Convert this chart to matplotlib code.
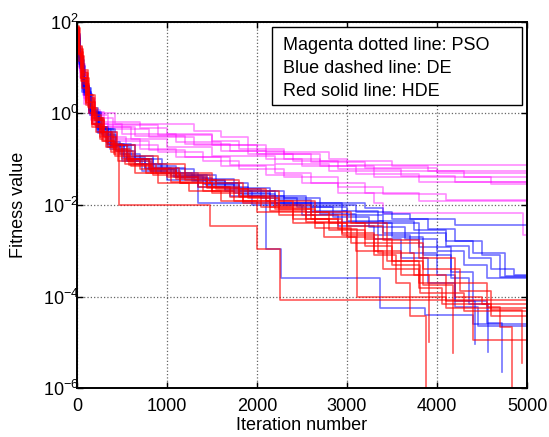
import matplotlib
matplotlib.use("Agg")
import matplotlib.pyplot as plt
from matplotlib.patches import Rectangle

plt.rcParams['font.family'] = ['Liberation Sans', 'DejaVu Sans']
plt.rcParams['mathtext.fontset'] = 'custom'
plt.rcParams['mathtext.rm'] = 'Liberation Sans'

# convergence runs, (iteration, best fitness) breakpoints
pso1 = [(0, 40), (25, 15), (60, 5), (120, 1.8), (200, 1.0), (420, 0.6), (1300, 0.42), (1600, 0.3),
        (1900, 0.2), (2100, 0.14), (2800, 0.1), (3000, 0.074), (5000, 0.074)]
pso2 = [(0, 55), (30, 12), (90, 3), (160, 1.1), (300, 0.65), (700, 0.48), (1000, 0.36), (1500, 0.25),
        (1800, 0.17), (2300, 0.13), (2700, 0.09), (3500, 0.07), (3900, 0.055), (5000, 0.055)]
pso3 = [(0, 35), (20, 10), (70, 2.5), (150, 0.9), (350, 0.55), (900, 0.33), (1500, 0.2), (2000, 0.13),
        (2600, 0.085), (3200, 0.065), (4000, 0.05), (5000, 0.05)]
pso4 = [(0, 45), (40, 8), (100, 2.2), (200, 0.8), (400, 0.45), (800, 0.3), (1300, 0.2), (1900, 0.13),
        (2400, 0.09), (2900, 0.06), (3600, 0.042), (4200, 0.032), (5000, 0.032)]
pso5 = [(0, 30), (30, 6), (80, 1.6), (180, 0.6), (500, 0.35), (1100, 0.24), (1600, 0.15), (2100, 0.1),
        (2500, 0.07), (3100, 0.048), (3800, 0.031), (5000, 0.031)]
pso6 = [(0, 50), (25, 14), (70, 3.5), (130, 1.2), (260, 0.5), (600, 0.28), (1000, 0.18), (1500, 0.12),
        (2200, 0.08), (2800, 0.055), (3300, 0.04), (4600, 0.028), (5000, 0.028)]
pso7 = [(0, 40), (35, 9), (90, 2), (160, 0.7), (300, 0.3), (550, 0.2), (900, 0.14), (1400, 0.09),
        (1800, 0.06), (2300, 0.04), (2900, 0.025), (3400, 0.017), (4100, 0.013), (5000, 0.013)]
pso8 = [(0, 60), (20, 20), (60, 4), (130, 1.0), (250, 0.4), (450, 0.25), (800, 0.16), (1200, 0.11),
        (1700, 0.075), (2200, 0.05), (2600, 0.03), (3200, 0.018), (3800, 0.012), (5000, 0.012)]
pso9 = [(0, 38), (30, 10), (80, 2.2), (170, 0.6), (350, 0.28), (700, 0.17), (1100, 0.11), (1600, 0.07),
        (2100, 0.045), (2500, 0.03), (2900, 0.018), (3300, 0.011), (3400, 0.0066), (4960, 0.0022), (5000, 0.0022)]
pso10 = [(0, 48), (25, 11), (75, 2.8), (140, 1.0), (280, 0.5), (650, 0.32), (1200, 0.22), (1700, 0.15),
         (2300, 0.1), (2700, 0.07), (3300, 0.055), (4300, 0.04), (5000, 0.04)]

de1 = [(0, 50), (30, 12), (80, 3), (160, 1.0), (260, 0.45), (400, 0.22), (600, 0.12), (850, 0.07),
       (1100, 0.04), (1340, 0.011), (3200, 0.0085), (3400, 0.0065), (3700, 0.005), (4200, 0.0036), (5000, 0.0036)]
de2 = [(0, 45), (25, 14), (70, 3.5), (150, 1.1), (250, 0.45), (380, 0.2), (560, 0.1), (800, 0.06),
       (1100, 0.045), (1450, 0.03), (1800, 0.02), (2200, 0.013), (2600, 0.009), (3000, 0.006), (3400, 0.004),
       (3800, 0.0025), (4100, 0.0013), (4350, 7e-4), (4600, 4e-4), (4700, 2.7e-4), (5000, 2.7e-4)]
de3 = [(0, 55), (30, 15), (80, 3.5), (160, 1.1), (270, 0.45), (420, 0.2), (650, 0.1), (950, 0.06),
       (1300, 0.035), (1650, 0.02), (1950, 0.01), (2100, 0.0011), (2270, 2.6e-4), (3370, 5.6e-5),
       (3870, 4e-5), (4400, 2.5e-5), (5000, 2.5e-5)]
de4 = [(0, 40), (20, 12), (60, 3), (130, 1.0), (220, 0.4), (340, 0.18), (500, 0.09), (720, 0.055),
       (1000, 0.035), (1350, 0.025), (1700, 0.016), (2100, 0.01), (2500, 0.006), (2900, 0.0035),
       (3300, 0.0018), (3600, 7e-4), (3900, 2e-4), (4200, 6e-5), (4450, 2.3e-5), (5000, 2.3e-5)]
de5 = [(0, 60), (25, 18), (70, 4), (140, 1.3), (230, 0.5), (350, 0.22), (520, 0.11), (760, 0.065),
       (1050, 0.042), (1400, 0.028), (1750, 0.018), (2150, 0.011), (2550, 0.007), (2950, 0.0042),
       (3350, 0.0022), (3700, 9e-4), (4000, 3e-4), (4200, 8e-5), (4420, 9e-6)]
de6 = [(0, 45), (30, 10), (75, 2.5), (150, 0.9), (240, 0.38), (370, 0.17), (560, 0.09), (820, 0.055),
       (1150, 0.038), (1500, 0.025), (1900, 0.016), (2300, 0.01), (2700, 0.0065), (3100, 0.004),
       (3500, 0.002), (3850, 8e-4), (4150, 2.5e-4), (4350, 7e-5), (4570, 6e-6)]
de7 = [(0, 50), (20, 16), (65, 3.8), (135, 1.2), (225, 0.45), (345, 0.2), (520, 0.1), (760, 0.06),
       (1080, 0.04), (1430, 0.027), (1800, 0.017), (2200, 0.011), (2600, 0.0072), (3000, 0.0045),
       (3400, 0.0025), (3800, 0.0012), (4150, 3.5e-4), (4400, 8e-5), (4550, 2.6e-5), (4720, 2.2e-6)]
de8 = [(0, 52), (25, 13), (70, 3.2), (145, 1.0), (245, 0.42), (380, 0.19), (580, 0.1), (850, 0.065),
       (1200, 0.045), (1550, 0.03), (1900, 0.02), (2300, 0.014), (2700, 0.01), (3100, 0.007), (3500, 0.005),
       (3900, 0.003), (4200, 0.0016), (4500, 8e-4), (4700, 4e-4), (4850, 2.9e-4), (5000, 2.9e-4)]
de9 = [(0, 42), (35, 11), (90, 2.6), (170, 0.8), (280, 0.33), (430, 0.15), (650, 0.08), (930, 0.05),
       (1280, 0.034), (1650, 0.022), (2050, 0.014), (2450, 0.009), (2850, 0.0055), (3250, 0.0033),
       (3650, 0.0018), (4000, 0.001), (4300, 5e-4), (4550, 2.5e-4), (5000, 2.5e-4)]
de10 = [(0, 58), (25, 17), (65, 4), (130, 1.2), (210, 0.5), (320, 0.24), (480, 0.13), (700, 0.08),
        (1000, 0.05), (1350, 0.036), (1750, 0.024), (2150, 0.016), (2550, 0.011), (2950, 0.0075),
        (3350, 0.0045), (3750, 0.0028), (4100, 0.0016), (4400, 9e-4), (4750, 2.8e-4), (5000, 2.8e-4)]

hde1 = [(0, 70), (20, 20), (50, 6), (100, 1.8), (170, 0.6), (260, 0.3), (350, 0.18), (470, 0.01),
        (1480, 0.0034), (2000, 0.0011), (2260, 8.4e-5), (5000, 8.4e-5)]
hde2 = [(0, 80), (25, 30), (60, 9), (120, 2.5), (200, 0.8), (300, 0.4), (450, 0.2), (650, 0.12),
        (900, 0.08), (1200, 0.05), (1500, 0.035), (1800, 0.022), (2100, 0.012), (2400, 0.007),
        (2800, 0.004), (3200, 0.0018), (3500, 6e-4), (3800, 2e-4), (4200, 1e-4), (4500, 6.8e-5), (5000, 6.8e-5)]
hde3 = [(0, 60), (15, 20), (45, 5), (100, 1.5), (170, 0.5), (280, 0.25), (420, 0.12), (600, 0.07),
        (850, 0.045), (1150, 0.03), (1500, 0.02), (1850, 0.012), (2200, 0.008), (2600, 0.005),
        (2900, 0.003), (3110, 1e-4), (4100, 5.6e-5), (5000, 5.6e-5)]
hde4 = [(0, 75), (30, 18), (75, 4.5), (140, 1.3), (220, 0.5), (340, 0.22), (500, 0.1), (700, 0.06),
        (1000, 0.04), (1350, 0.025), (1700, 0.015), (2050, 0.009), (2400, 0.005), (2800, 0.0028),
        (3200, 0.0013), (3500, 5e-4), (3810, 1.2e-4), (4300, 4.8e-5), (5000, 4.8e-5)]
hde5 = [(0, 55), (20, 14), (60, 3.5), (130, 1.0), (210, 0.4), (320, 0.18), (460, 0.09), (650, 0.05),
        (900, 0.03), (1250, 0.02), (1600, 0.012), (2000, 0.007), (2400, 0.004), (2750, 0.002),
        (3100, 0.001), (3400, 4e-4), (3800, 1.5e-4), (4050, 7e-5), (4600, 3.8e-5), (5000, 3.8e-5)]
hde6 = [(0, 65), (25, 22), (65, 6), (130, 1.8), (200, 0.7), (300, 0.3), (430, 0.15), (620, 0.08),
        (880, 0.05), (1200, 0.035), (1550, 0.022), (1900, 0.014), (2250, 0.008), (2650, 0.004),
        (3000, 0.002), (3300, 8e-4), (3550, 2e-4), (3700, 3.7e-5), (3880, 8e-7)]
hde7 = [(0, 72), (20, 28), (55, 8), (110, 2.5), (180, 0.9), (270, 0.4), (390, 0.2), (560, 0.1),
        (800, 0.06), (1100, 0.04), (1450, 0.025), (1800, 0.015), (2150, 0.009), (2550, 0.005),
        (2950, 0.0025), (3300, 0.001), (3600, 3e-4), (3910, 1e-5)]
hde8 = [(0, 68), (25, 20), (60, 5), (120, 1.4), (190, 0.55), (290, 0.25), (410, 0.13), (580, 0.075),
        (820, 0.05), (1150, 0.03), (1500, 0.018), (1850, 0.011), (2250, 0.006), (2650, 0.0032),
        (3050, 0.0015), (3450, 6e-4), (3850, 1.8e-4), (4180, 5.8e-6)]
hde9 = [(0, 62), (20, 24), (55, 7), (115, 2), (185, 0.7), (280, 0.32), (400, 0.16), (570, 0.09),
        (810, 0.055), (1100, 0.036), (1450, 0.024), (1800, 0.016), (2200, 0.01), (2600, 0.006),
        (3000, 0.0035), (3400, 0.0017), (3800, 7e-4), (4200, 2e-4), (4550, 6e-5), (4700, 2.2e-5), (4830, 8e-7)]
hde10 = [(0, 78), (25, 26), (65, 7.5), (125, 2.2), (195, 0.8), (290, 0.35), (410, 0.17), (590, 0.1),
         (830, 0.065), (1130, 0.045), (1480, 0.03), (1850, 0.02), (2250, 0.012), (2650, 0.007),
         (3050, 0.004), (3450, 0.0015), (3850, 4e-4), (4250, 1.3e-4), (4600, 5e-5), (4940, 3.6e-6)]
hde11 = [(0, 66), (20, 21), (50, 6), (105, 1.7), (170, 0.6), (260, 0.27), (380, 0.14), (540, 0.08),
         (770, 0.05), (1050, 0.032), (1400, 0.02), (1750, 0.012), (2150, 0.0075), (2550, 0.0042),
         (2950, 0.0022), (3350, 9e-4), (3750, 3e-4), (4100, 8e-5), (4400, 1.1e-5), (5000, 1.1e-5)]

pso_runs = [pso1, pso2, pso3, pso4, pso5, pso6, pso7, pso8, pso9, pso10]
de_runs = [de1, de2, de3, de4, de5, de6, de7, de8, de9, de10]
hde_runs = [hde1, hde2, hde3, hde4, hde5, hde6, hde7, hde8, hde9, hde10, hde11]

legend_lines = ["Magenta dotted line: PSO", "Blue dashed line: DE", "Red solid line: HDE"]

fig = plt.figure(figsize=(5.49, 4.37), dpi=100)
ax = fig.add_axes([0.140, 0.112, 0.820, 0.838])

for runs, col, a in [(pso_runs, '#ff00ff', 0.45), (de_runs, '#0000ff', 0.55), (hde_runs, '#ff0000', 0.65)]:
    for run in runs:
        it = [p[0] for p in run]
        val = [p[1] for p in run]
        ax.plot(it, val, drawstyle='steps-post', color=col, alpha=a, lw=1.2)

ax.set_yscale('log')
ax.set_xlim(0, 5000)
ax.set_ylim(1e-6, 1e2)
ax.set_xticks([0, 1000, 2000, 3000, 4000, 5000])
ax.set_yticks([1e-6, 1e-4, 1e-2, 1e0, 1e2])
ax.minorticks_off()
ax.tick_params(direction='in', top=True, right=True, labelsize=13, length=4, width=1)
ax.tick_params(axis='x', pad=7)
ax.tick_params(axis='y', pad=-1.5)
ax.grid(True, color='#666666', linestyle=':', linewidth=0.9)
for s in ax.spines.values():
    s.set_linewidth(1.4)

ax.set_xlabel('Iteration number', fontsize=13, va='center')
ax.xaxis.set_label_coords(0.5, -0.101)
ax.set_ylabel('Fitness value', fontsize=13, va='center')
ax.yaxis.set_label_coords(-0.13, 0.5)

# text box used as legend
ax.add_patch(Rectangle((0.433, 0.773), 0.556, 0.213, transform=ax.transAxes,
                       facecolor='white', edgecolor='black', lw=1.0, zorder=5))
for i, line in enumerate(legend_lines):
    ax.text(0.458, 0.935 - i * 0.062, line, transform=ax.transAxes, fontsize=13,
            va='center', ha='left', zorder=6)

fig.savefig('out.png', dpi=100)
